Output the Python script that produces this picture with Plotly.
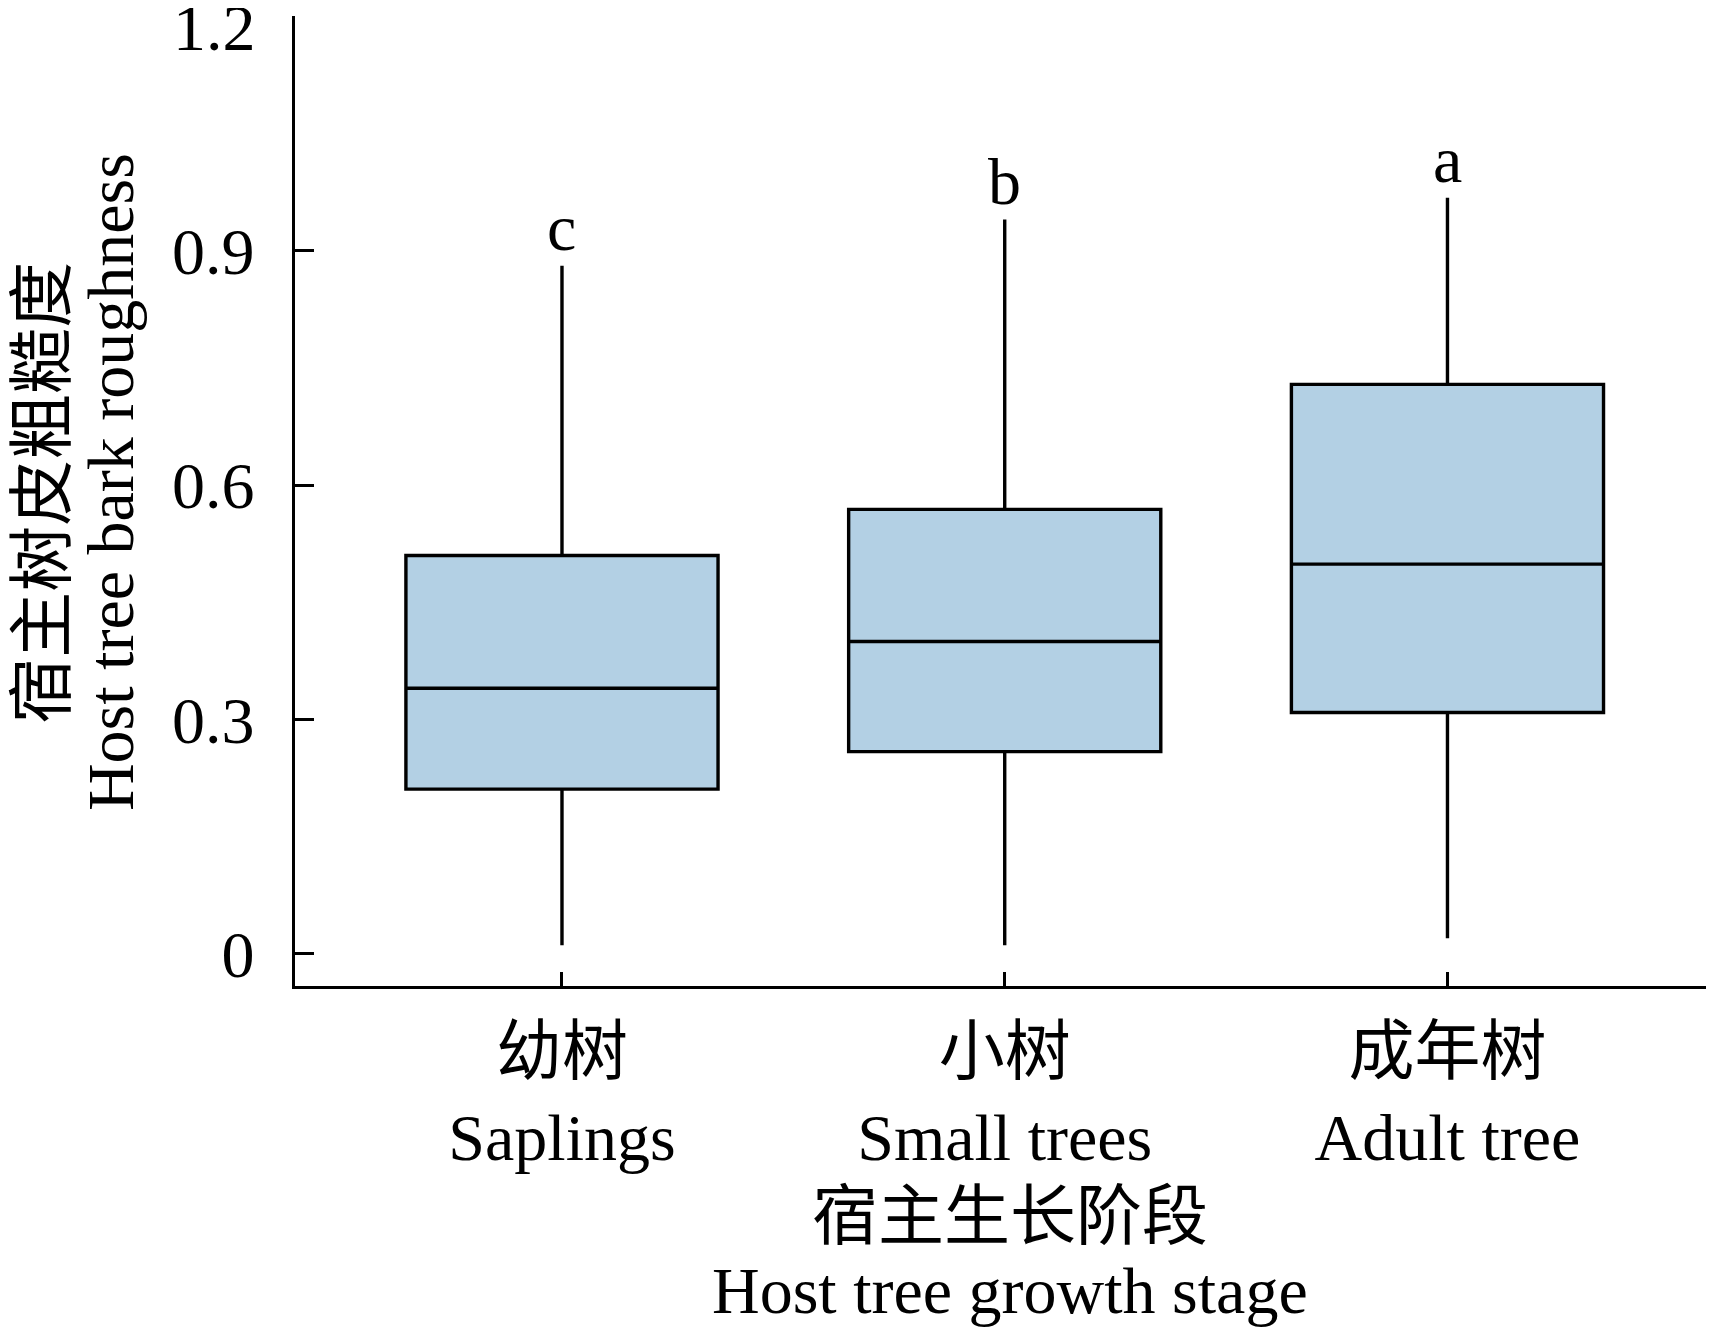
import plotly.graph_objects as go

# data
stages = ["幼树<br>Saplings", "小树<br>Small trees", "成年树<br>Adult tree"]
whisker_low = [0.011, 0.011, 0.020]
q1 = [0.211, 0.259, 0.309]
median = [0.340, 0.400, 0.499]
q3 = [0.510, 0.569, 0.729]
whisker_high = [0.881, 0.940, 0.968]
letters = ["c", "b", "a"]
y_ticks = [0, 0.3, 0.6, 0.9, 1.2]
y_ticktext = ["0", "0.3", "0.6", "0.9", "1.2"]

FONT = "Liberation Serif, Times New Roman, Noto Sans CJK SC, serif"
BOX_FILL = "#b3d0e4"
FS = 66

fig = go.Figure()

fig.add_trace(
    go.Box(
        x=stages,
        q1=q1,
        median=median,
        q3=q3,
        lowerfence=whisker_low,
        upperfence=whisker_high,
        width=0.705,
        whiskerwidth=0,
        fillcolor=BOX_FILL,
        line=dict(color="black", width=3.4),
        boxpoints=False,
        hoverinfo="skip",
        showlegend=False,
    )
)

# significance letters above the whiskers
for stage, top, letter in zip(stages, whisker_high, letters):
    fig.add_annotation(
        x=stage, y=top, text=letter, showarrow=False,
        xanchor="center", yanchor="bottom", yshift=0,
        font=dict(family=FONT, size=FS, color="black"),
    )

# axis titles, two lines each, placed by hand for tighter line spacing
title_font = dict(family=FONT, size=FS, color="black")
fig.add_annotation(xref="paper", yref="paper", x=0.504, y=-0.238,
                   text="宿主生长阶段", showarrow=False,
                   xanchor="center", yanchor="middle", font=title_font)
fig.add_annotation(xref="paper", yref="paper", x=0.504, y=-0.314,
                   text="Host tree growth stage", showarrow=False,
                   xanchor="center", yanchor="middle", font=title_font)
fig.add_annotation(xref="paper", yref="paper", x=-0.178, y=0.509,
                   text="宿主树皮粗糙度", showarrow=False, textangle=-90,
                   xanchor="center", yanchor="middle", font=title_font)
fig.add_annotation(xref="paper", yref="paper", x=-0.130, y=0.519,
                   text="Host tree bark roughness", showarrow=False, textangle=-90,
                   xanchor="center", yanchor="middle", font=title_font)

# the top tick label sits a little below its tick so it stays on the page
tick_labels = list(y_ticktext)
tick_labels[-1] = ""
fig.add_annotation(xref="paper", yref="y", x=-0.026, y=y_ticks[-1],
                   text=y_ticktext[-1], showarrow=False,
                   xanchor="right", yanchor="middle", yshift=-11,
                   font=dict(family=FONT, size=FS, color="black"))

fig.update_xaxes(
    range=[-0.603, 2.602],
    showline=True, linecolor="black", linewidth=3.4,
    ticks="inside", ticklen=14, tickwidth=3, tickcolor="black",
    ticklabelstandoff=6,
    showgrid=False, zeroline=False,
    tickfont=dict(family=FONT, size=FS, color="black"),
)
fig.update_yaxes(
    range=[-0.041, 1.2005],
    tickvals=y_ticks,
    ticktext=tick_labels,
    showline=True, linecolor="black", linewidth=3.4,
    ticks="inside", ticklen=19, tickwidth=3, tickcolor="black",
    ticklabelstandoff=24,
    showgrid=False, zeroline=False,
    tickfont=dict(family=FONT, size=FS, color="black"),
)

# the page adds an 8px body margin, so the figure is offset to compensate
fig.update_layout(
    width=1714,
    height=1330,
    margin=dict(l=287, r=8, t=8, b=352),
    plot_bgcolor="white",
    paper_bgcolor="white",
)

fig.write_html("out.html")
